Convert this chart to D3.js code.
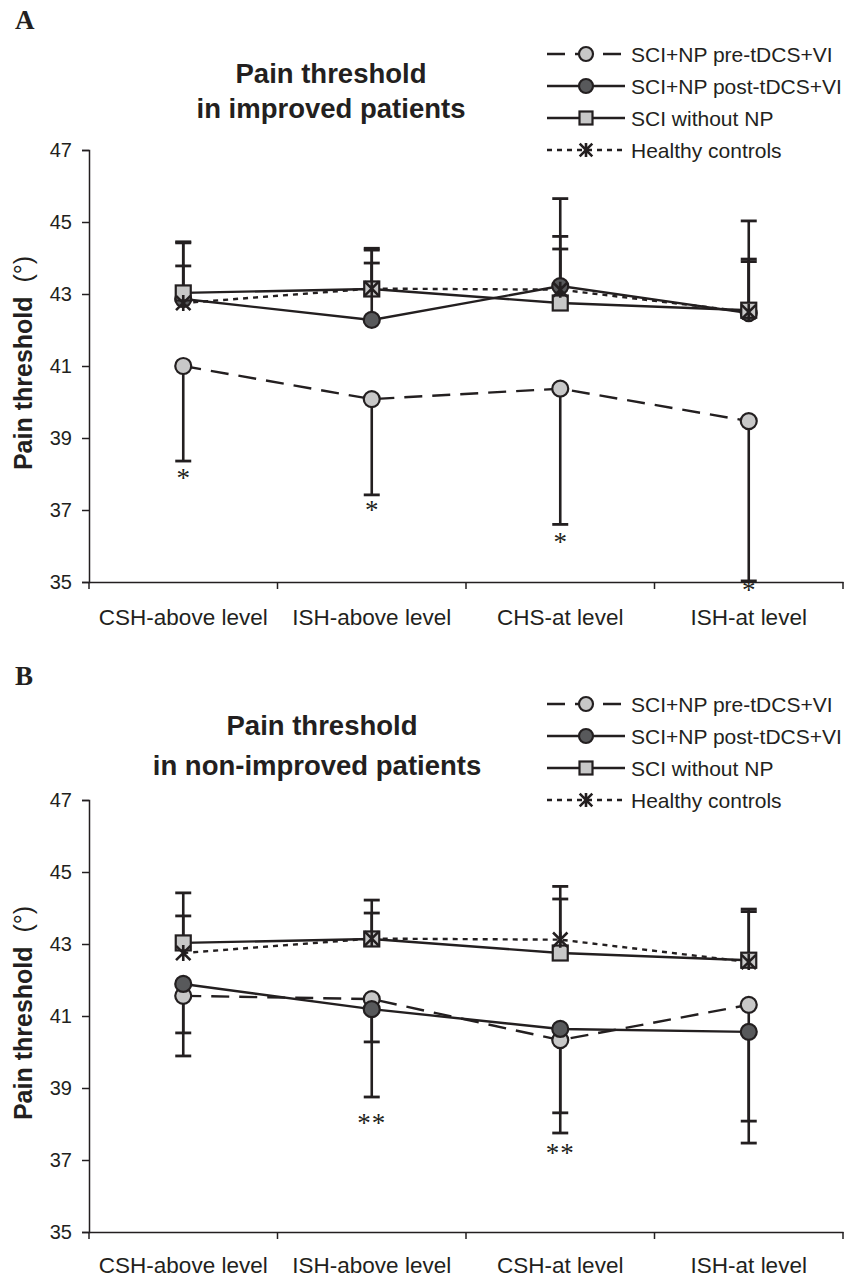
<!DOCTYPE html>
<html>
<head>
<meta charset="utf-8">
<script src="https://cdn.jsdelivr.net/npm/d3@7"></script>
<style>
  body { margin: 0; background: #fff; }
  svg { display: block; }
  text { font-family: "Liberation Sans", Arial, sans-serif; fill: #231f20; }
</style>
</head>
<body>
<svg id="chart"></svg>
<script>
// ---- data ----
const categoriesA = ["CSH-above level", "ISH-above level", "CHS-at level", "ISH-at level"];
const categoriesB = ["CSH-above level", "ISH-above level", "CSH-at level", "ISH-at level"];
const yTicks = [35, 37, 39, 41, 43, 45, 47];
const seriesNames = ["SCI+NP pre-tDCS+VI", "SCI+NP post-tDCS+VI", "SCI without NP", "Healthy controls"];

// improved patients
const preA = [41.0, 40.08, 40.37, 39.47];
const preLowA = [38.36, 37.42, 36.6, 35.03];
const postA = [42.86, 42.28, 43.22, 42.47];
const postHighA = [44.45, 44.27, 45.65, 45.03];
const starsA = ["*", "*", "*", "*"];
const starPosA = [37.94, 37.06, 36.17, 34.83];

// non-improved patients
const preB = [41.56, 41.47, 40.33, 41.31];
const preLowB = [39.89, 38.75, 37.75, 37.47];
const postB = [41.89, 41.19, 40.64, 40.56];
const postLowB = [40.53, 40.28, 38.31, 38.08];
const starsB = ["", "**", "**", ""];
const starPosB = [null, 38.08, 37.25, null];

// reference groups (same in both panels)
const sciMean = [43.03, 43.14, 42.75, 42.55];
const sciHigh = [44.42, 44.22, 44.25, 43.97];
const healthyMean = [42.75, 43.15, 43.12, 42.5];
const healthyHigh = [43.78, 43.86, 44.6, 43.9];

// ---- setup ----
const width = 850;
const height = 1278;
const ink = "#231f20";
const lightFill = "#c8c8c8";
const darkFill = "#58595b";
const starSize = 27;

const svg = d3.select("#chart").attr("width", width).attr("height", height);

const styles = [
  { dash: "18,10", marker: "circle", fill: lightFill },
  { dash: null, marker: "circle", fill: darkFill },
  { dash: null, marker: "square", fill: lightFill },
  { dash: "5,5", marker: "star", fill: "none" },
];

function drawMarker(g, type, fill, x, y, r) {
  if (type === "circle") {
    g.append("circle").attr("cx", x).attr("cy", y).attr("r", r)
      .attr("fill", fill).attr("stroke", ink).attr("stroke-width", 2.2);
  } else if (type === "square") {
    g.append("rect").attr("x", x - r).attr("y", y - r)
      .attr("width", 2 * r).attr("height", 2 * r)
      .attr("fill", fill).attr("stroke", ink).attr("stroke-width", 2.2);
  } else {
    const s = r * 0.9;
    g.append("path")
      .attr("d", `M${x},${y - r}V${y + r}M${x - s},${y - s}L${x + s},${y + s}M${x - s},${y + s}L${x + s},${y - s}`)
      .attr("stroke", ink).attr("stroke-width", 2.6).attr("fill", "none");
  }
}

function drawPanel(p) {
  const y = d3.scaleLinear().domain([35, 47]).range([p.bottom, p.top]);
  const x = d3.scaleBand().domain(p.categories).range([89, 843]);
  const cx = (i) => x(p.categories[i]) + x.bandwidth() / 2;
  const g = svg.append("g");

  // panel letter
  g.append("text")
    .attr("x", 15).attr("y", p.letterY)
    .style("font-family", '"Liberation Serif", "Times New Roman", serif')
    .attr("font-weight", "bold").attr("font-size", 27)
    .text(p.letter);

  // title
  p.title.forEach((t, i) => {
    g.append("text")
      .attr("x", p.titleX[i]).attr("y", p.titleY[i])
      .attr("text-anchor", "middle")
      .attr("font-weight", "bold").attr("font-size", 27.5)
      .text(t);
  });

  // y axis
  const yAxis = g.append("g")
    .attr("transform", `translate(89,0)`)
    .call(d3.axisLeft(y).tickValues(yTicks).tickSize(7).tickPadding(10).tickFormat(d3.format("d")));
  yAxis.selectAll("path, line").attr("stroke", ink).attr("stroke-width", 1.5);
  yAxis.selectAll("text").attr("font-size", 20).attr("fill", ink)
    .style("font-family", '"Liberation Sans", Arial, sans-serif');

  // x axis
  const xAxis = g.append("g")
    .attr("transform", `translate(0,${p.bottom})`)
    .call(d3.axisBottom(x).tickSize(0).tickSizeOuter(0).tickPadding(p.labelPad));
  xAxis.select(".domain").attr("stroke", ink).attr("stroke-width", 1.5);
  xAxis.selectAll("text").attr("font-size", 22.5).attr("fill", ink)
    .style("font-family", '"Liberation Sans", Arial, sans-serif');
  const bounds = p.categories.map((c) => x(c)).concat([x.range()[1]]);
  xAxis.selectAll(".bound").data(bounds).join("line")
    .attr("class", "bound")
    .attr("x1", (d) => d).attr("x2", (d) => d)
    .attr("y1", 0).attr("y2", 7)
    .attr("stroke", ink).attr("stroke-width", 1.5);

  // y axis title
  const yt = g.append("text")
    .attr("transform", `translate(32,${(p.top + p.bottom) / 2 - 3}) rotate(-90)`)
    .attr("text-anchor", "middle")
    .attr("font-size", 25);
  yt.append("tspan").attr("font-weight", "bold").text("Pain threshold");
  yt.append("tspan").text("\u00a0\u00a0(°)");

  const line = d3.line().x((d, i) => cx(i)).y((d) => y(d));

  // lines
  p.series.forEach((s, k) => {
    g.append("path")
      .attr("d", line(s.mean))
      .attr("fill", "none")
      .attr("stroke", ink)
      .attr("stroke-width", 2.4)
      .attr("stroke-dasharray", styles[k].dash);
  });

  // error bars
  p.series.forEach((s) => {
    if (!s.bar) return;
    s.mean.forEach((m, i) => {
      g.append("line")
        .attr("x1", cx(i)).attr("x2", cx(i))
        .attr("y1", y(m)).attr("y2", y(s.bar[i]))
        .attr("stroke", ink).attr("stroke-width", 2.6);
      g.append("line")
        .attr("x1", cx(i) - 8).attr("x2", cx(i) + 8)
        .attr("y1", y(s.bar[i])).attr("y2", y(s.bar[i]))
        .attr("stroke", ink).attr("stroke-width", 2.8);
    });
  });

  // markers
  p.series.forEach((s, k) => {
    s.mean.forEach((m, i) => {
      drawMarker(g, styles[k].marker, styles[k].fill, cx(i), y(m), styles[k].marker === "square" ? 7.5 : 8);
    });
  });

  // significance marks (glyph centre sits on starPos)
  p.stars.forEach((t, i) => {
    if (!t) return;
    g.append("text")
      .attr("x", cx(i)).attr("y", y(p.starPos[i]) + starSize * 0.4)
      .attr("text-anchor", "middle")
      .style("font-family", '"Liberation Serif", "Times New Roman", serif')
      .attr("font-size", starSize)
      .attr("letter-spacing", t.length > 1 ? 1 : 0)
      .text(t);
  });

  // legend
  const lg = g.append("g");
  seriesNames.forEach((name, k) => {
    const ly = p.legendTop + k * 32;
    lg.append("line")
      .attr("x1", 547).attr("x2", 625)
      .attr("y1", ly).attr("y2", ly)
      .attr("stroke", ink).attr("stroke-width", 2.4)
      .attr("stroke-dasharray", styles[k].dash);
    drawMarker(lg, styles[k].marker, styles[k].fill, 586, ly, styles[k].marker === "square" ? 6.5 : 7);
    lg.append("text")
      .attr("x", 631).attr("y", ly).attr("dy", "0.36em")
      .attr("font-size", 21)
      .text(name);
  });
}

drawPanel({
  letter: "A",
  letterY: 29,
  title: ["Pain threshold", "in improved patients"],
  titleX: [331, 331],
  titleY: [83, 118],
  top: 150,
  bottom: 582,
  labelPad: 27.5,
  legendTop: 54,
  categories: categoriesA,
  series: [
    { mean: preA, bar: preLowA },
    { mean: postA, bar: postHighA },
    { mean: sciMean, bar: sciHigh },
    { mean: healthyMean, bar: healthyHigh },
  ],
  stars: starsA,
  starPos: starPosA,
});

drawPanel({
  letter: "B",
  letterY: 685,
  title: ["Pain threshold", "in non-improved patients"],
  titleX: [322, 317],
  titleY: [735, 775],
  top: 800,
  bottom: 1232,
  labelPad: 25,
  legendTop: 704,
  categories: categoriesB,
  series: [
    { mean: preB, bar: preLowB },
    { mean: postB, bar: postLowB },
    { mean: sciMean, bar: sciHigh },
    { mean: healthyMean, bar: healthyHigh },
  ],
  stars: starsB,
  starPos: starPosB,
});
</script>
</body>
</html>
